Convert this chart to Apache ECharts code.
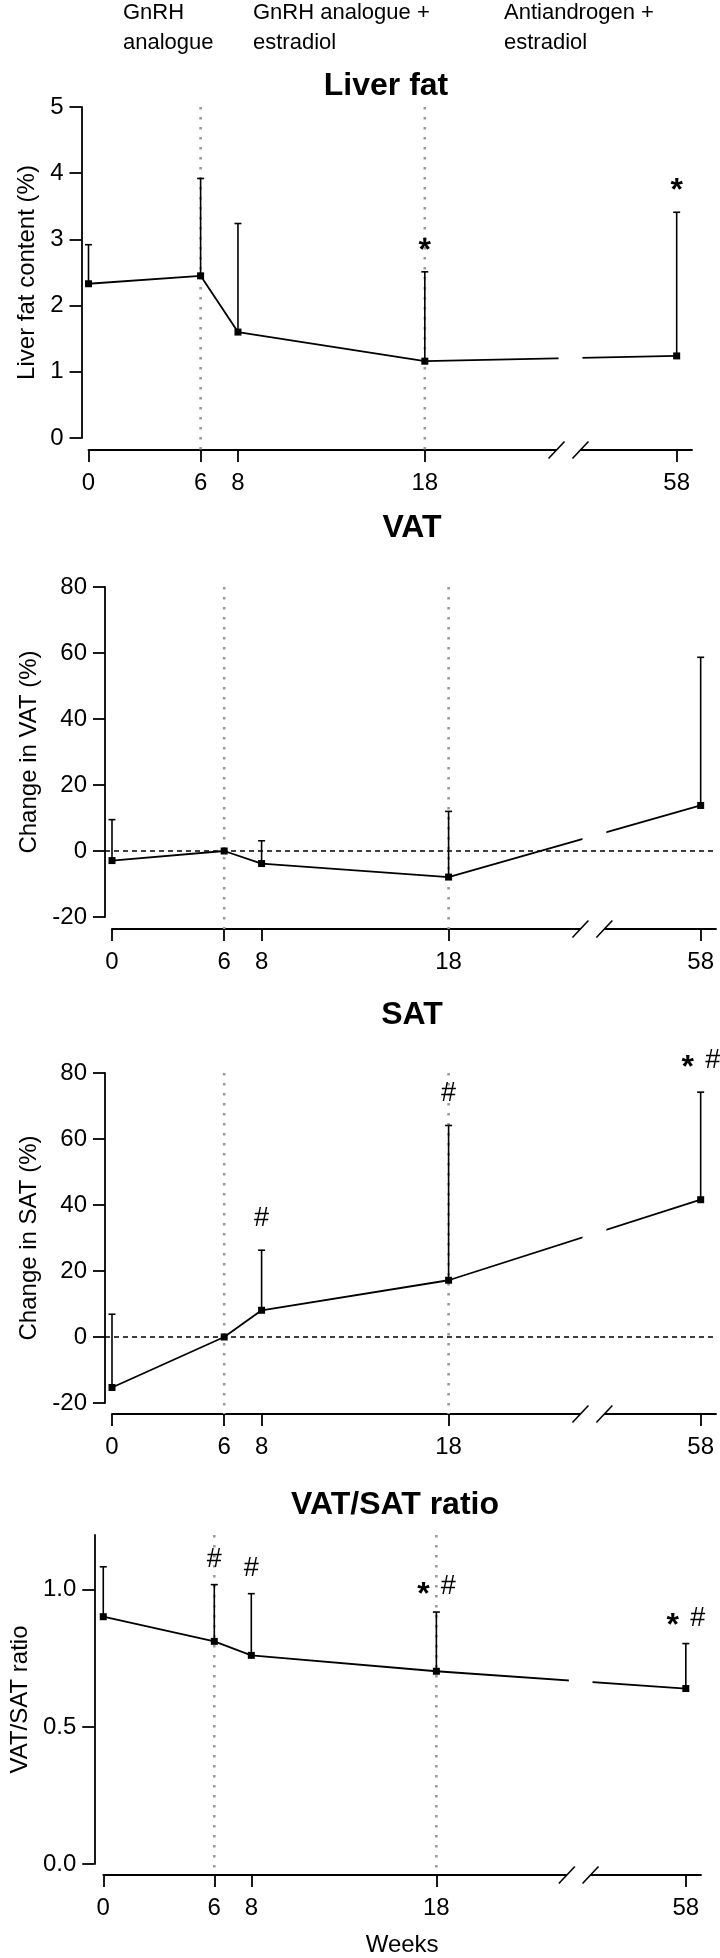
<!DOCTYPE html>
<html><head><meta charset="utf-8">
<script src="https://cdn.jsdelivr.net/npm/echarts@6/dist/echarts.min.js"></script>
<style>html,body{margin:0;padding:0;background:#fff}#c{width:720px;height:1958px}</style>
</head><body><div id="c"></div>
<script>
// ---- data ----
const weeks = [0, 6, 8, 18, 58];
const weekTicks = ['0', '6', '8', '18', '58'];
const guideWeeks = [6, 18];

const liverMean  = [2.33, 2.45, 1.60, 1.16, 1.24];
const liverUpper = [2.92, 3.92, 3.24, 2.51, 3.41];
const liverMarks = ['', '', '', '*', '*'];

const vatMean  = [-2.9, 0, -3.8, -7.9, 13.8];
const vatUpper = [9.5, null, 3.1, 12.0, 58.7];
const vatMarks = ['', '', '', '', ''];

const satMean  = [-15.3, 0, 8.1, 17.2, 41.6];
const satUpper = [6.9, null, 26.3, 64.1, 74.2];
const satMarks = ['', '', '#', '#', '*#'];

const ratioMean  = [0.902, 0.812, 0.761, 0.703, 0.640];
const ratioUpper = [1.084, 1.019, 0.986, 0.919, 0.804];
const ratioMarks = ['', '#', '#', '*#', '*#'];

const liverTicks = [0, 1, 2, 3, 4, 5];
const changeTicks = [-20, 0, 20, 40, 60, 80];
const ratioTicks = [0, 0.5, 1];

// ---- axis break (weeks after 25 compressed) ----
const FONT = '"Liberation Sans", Arial, Helvetica, sans-serif';
const AX_MAX = 32.3;
const BREAK_FROM = 25, BREAK_SKIP = 26.52;
const BREAK_MARKS = [25.05, 26.33];
function pos(w) { return w <= BREAK_FROM ? w : w - BREAK_SKIP; }
const tickPos = weeks.map(pos);

const panels = [
  {name: 'Liver fat', yName: 'Liver fat content (%)', mean: liverMean, upper: liverUpper, marks: liverMarks,
   ymin: 0, ymax: 5, yTicks: liverTicks, dec: 0, zero: false,
   grid: {left: 88.5, top: 107, width: 603.5, height: 331}, yOff: 7, xOff: 12, nameGap: 40,
   titleX: 386, titleY: 86, markGap: 29},
  {name: 'VAT', yName: 'Change in VAT (%)', mean: vatMean, upper: vatUpper, marks: vatMarks,
   ymin: -20, ymax: 80, yTicks: changeTicks, dec: 0, zero: true,
   grid: {left: 112, top: 587, width: 604, height: 330}, yOff: 7, xOff: 12, nameGap: 64,
   titleX: 412, titleY: 528, markGap: 30},
  {name: 'SAT', yName: 'Change in SAT (%)', mean: satMean, upper: satUpper, marks: satMarks,
   ymin: -20, ymax: 80, yTicks: changeTicks, dec: 0, zero: true,
   grid: {left: 112, top: 1073, width: 604, height: 330}, yOff: 7, xOff: 11, nameGap: 64,
   titleX: 412, titleY: 1015, markGap: 32},
  {name: 'VAT/SAT ratio', yName: 'VAT/SAT ratio', mean: ratioMean, upper: ratioUpper, marks: ratioMarks,
   ymin: 0, ymax: 1.2, yTicks: ratioTicks, dec: 1, zero: false,
   grid: {left: 97, top: 1535, width: 604, height: 330}, yOff: 9, xOff: 11, nameGap: 62,
   titleX: 395, titleY: 1505, markGap: 25}
];

const headers = [
  {text: 'GnRH\nanalogue', x: 123},
  {text: 'GnRH analogue +\nestradiol', x: 253},
  {text: 'Antiandrogen +\nestradiol', x: 504}
];

const titles = headers.map(h => ({
  text: h.text, left: h.x, top: -2, padding: 0,
  textStyle: {fontFamily: FONT, fontSize: 22, fontWeight: 'normal', lineHeight: 30, color: '#000'}
})).concat(panels.map(P => ({
  text: P.name, left: P.titleX, top: P.titleY - 16, padding: 0, textAlign: 'center',
  textStyle: {fontFamily: FONT, fontSize: 32, fontWeight: 'bold', lineHeight: 32, color: '#000'}
})));

const grids = [], xAxes = [], yAxes = [], series = [];
const axisLineStyle = {color: '#000', width: 1.8};

panels.forEach((P, i) => {
  grids.push(Object.assign({containLabel: false}, P.grid));
  xAxes.push({
    gridIndex: i, type: 'value', min: 0, max: AX_MAX, offset: P.xOff, position: 'bottom',
    axisLine: {show: true, onZero: false, lineStyle: axisLineStyle},
    axisTick: {show: true, length: 12, lineStyle: axisLineStyle, customValues: tickPos},
    axisLabel: {show: true, margin: 21, color: '#000', fontFamily: FONT, fontSize: 24, customValues: tickPos,
      formatter: v => { const k = tickPos.findIndex(p => Math.abs(p - v) < 1e-6); return k >= 0 ? weekTicks[k] : ''; }},
    splitLine: {show: false},
    name: i === panels.length - 1 ? 'Weeks' : '', nameLocation: 'middle', nameGap: 58,
    nameTextStyle: {fontFamily: FONT, fontSize: 24, color: '#000'}
  });
  yAxes.push({
    gridIndex: i, type: 'value', min: P.ymin, max: P.ymax, offset: P.yOff, position: 'left',
    axisLine: {show: true, onZero: false, lineStyle: axisLineStyle},
    axisTick: {show: true, length: 12, lineStyle: axisLineStyle, customValues: P.yTicks},
    axisLabel: {show: true, margin: 18, color: '#000', fontFamily: FONT, fontSize: 24, customValues: P.yTicks,
      formatter: v => Number(v).toFixed(P.dec)},
    splitLine: {show: false},
    name: P.yName, nameLocation: 'middle', nameGap: P.nameGap,
    nameTextStyle: {fontFamily: FONT, fontSize: 24, color: '#000'}
  });

  // vertical dotted guides
  series.push({
    type: 'custom', xAxisIndex: i, yAxisIndex: i, clip: false, silent: true, z: 1,
    data: guideWeeks.map(w => [pos(w), P.ymin]),
    renderItem: (params, api) => {
      const x = api.value(0);
      const t = api.coord([x, P.ymax]);
      const b = api.coord([x, P.ymin]);
      return {type: 'line', shape: {x1: t[0], y1: t[1], x2: b[0], y2: b[1] + P.xOff},
        style: {stroke: '#9a9a9a', lineWidth: 2.6, lineDash: [2.6, 7.4]}};
    }
  });

  // dashed zero line
  if (P.zero) {
    series.push({
      type: 'custom', xAxisIndex: i, yAxisIndex: i, clip: false, silent: true, z: 1,
      data: [[0, 0]],
      renderItem: (params, api) => {
        const a = api.coord([0, api.value(1)]);
        const b = api.coord([AX_MAX, api.value(1)]);
        return {type: 'line', shape: {x1: a[0] - P.yOff, y1: a[1], x2: b[0], y2: b[1]},
          style: {stroke: '#000', lineWidth: 1.5, lineDash: [5, 4]}};
      }
    });
  }

  // error bars (upper SD)
  series.push({
    type: 'custom', xAxisIndex: i, yAxisIndex: i, clip: false, silent: true, z: 2,
    data: weeks.map((w, k) => [pos(w), P.mean[k], P.upper[k]]).filter(d => d[2] !== null),
    renderItem: (params, api) => {
      const p0 = api.coord([api.value(0), api.value(1)]);
      const p1 = api.coord([api.value(0), api.value(2)]);
      const st = {stroke: '#000', lineWidth: 1.6};
      return {type: 'group', children: [
        {type: 'line', shape: {x1: p0[0], y1: p0[1], x2: p1[0], y2: p1[1]}, style: st},
        {type: 'line', shape: {x1: p1[0] - 3.5, y1: p1[1], x2: p1[0] + 3.5, y2: p1[1]}, style: st}
      ]};
    }
  });

  // mean line with square markers
  series.push({
    type: 'line', xAxisIndex: i, yAxisIndex: i, z: 3, silent: true,
    data: weeks.map((w, k) => [pos(w), P.mean[k]]),
    symbol: 'rect', symbolSize: 7, showSymbol: true,
    itemStyle: {color: '#000'}, lineStyle: {color: '#000', width: 1.8}
  });

  // axis break: gap in the line and // marks on the x axis
  series.push({
    type: 'custom', xAxisIndex: i, yAxisIndex: i, clip: false, silent: true, z: 4,
    data: [[BREAK_MARKS[0], BREAK_MARKS[1]]],
    renderItem: (params, api) => {
      const xa = api.coord([api.value(0), P.ymin]);
      const xb = api.coord([api.value(1), P.ymin]);
      const axisY = xa[1] + P.xOff;
      const pA = api.coord([pos(weeks[3]), P.mean[3]]);
      const pB = api.coord([pos(weeks[4]), P.mean[4]]);
      const yAt = x => pA[1] + (pB[1] - pA[1]) * (x - pA[0]) / (pB[0] - pA[0]);
      const x1 = xa[0] + 2, x2 = xb[0] + 2;
      const h = 5;
      const slash = x => ({type: 'line', shape: {x1: x - 8, y1: axisY + 8.5, x2: x + 8, y2: axisY - 8.5},
        style: {stroke: '#000', lineWidth: 1.6}});
      return {type: 'group', children: [
        {type: 'polygon', shape: {points: [[x1, yAt(x1) - h], [x2, yAt(x2) - h], [x2, yAt(x2) + h], [x1, yAt(x1) + h]]},
          style: {fill: '#fff'}},
        {type: 'rect', shape: {x: xa[0], y: axisY - 3, width: xb[0] - xa[0], height: 6}, style: {fill: '#fff'}},
        slash(xa[0]), slash(xb[0])
      ]};
    }
  });

  // significance marks
  const markData = [];
  weeks.forEach((w, k) => { if (P.marks[k]) markData.push([pos(w), P.upper[k], k]); });
  if (markData.length) {
    series.push({
      type: 'custom', xAxisIndex: i, yAxisIndex: i, clip: false, silent: true, z: 5,
      data: markData,
      renderItem: (params, api) => {
        const p = api.coord([api.value(0), api.value(1)]);
        const m = P.marks[api.value(2)];
        const c = p[1] - P.markGap;
        const star = (x) => ({type: 'text', x: x, y: c + 8,
          style: {text: '*', fill: '#000', font: 'bold 32px ' + FONT, align: 'center', verticalAlign: 'middle'}});
        const hash = (x) => ({type: 'text', x: x, y: c,
          style: {text: '#', fill: '#000', font: '27px ' + FONT, align: 'center', verticalAlign: 'middle'}});
        const ch = [];
        if (m === '*') ch.push(star(p[0]));
        else if (m === '#') ch.push(hash(p[0]));
        else { ch.push(star(p[0] - 13)); ch.push(hash(p[0] + 12)); }
        return {type: 'group', children: ch};
      }
    });
  }
});

const chart = echarts.init(document.getElementById('c'), null, {renderer: 'canvas'});
chart.setOption({
  animation: false,
  backgroundColor: '#fff',
  textStyle: {fontFamily: FONT},
  title: titles,
  grid: grids,
  xAxis: xAxes,
  yAxis: yAxes,
  series: series
});
</script>
</body></html>
